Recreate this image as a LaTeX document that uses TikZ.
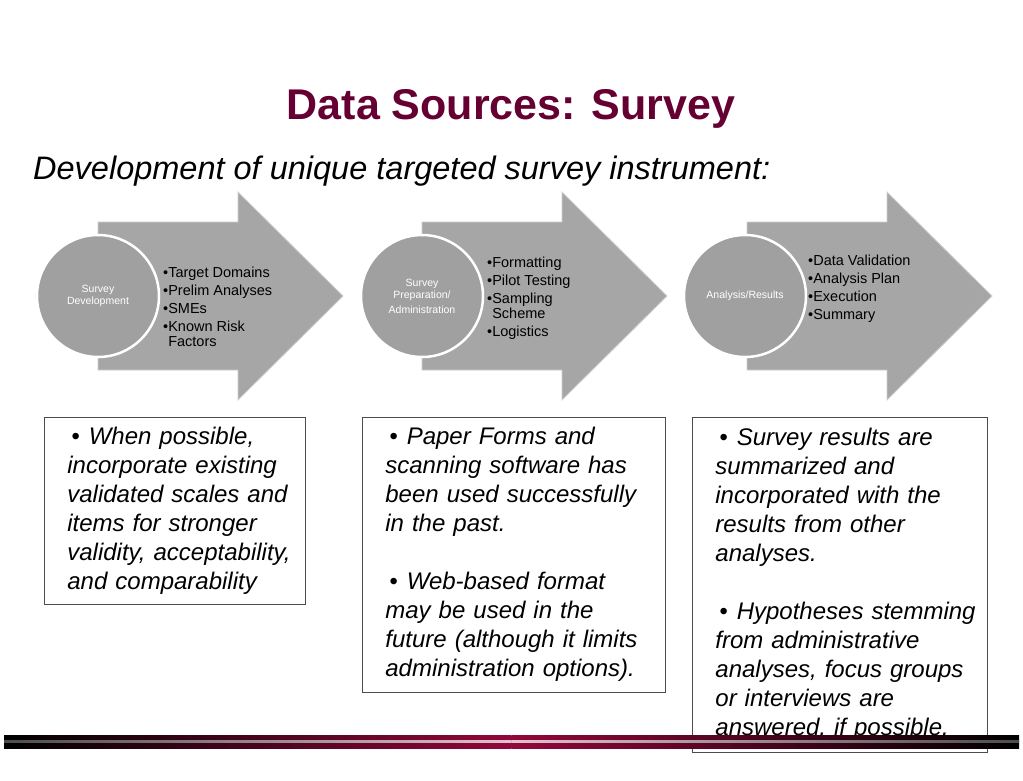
\documentclass[tikz,border=0pt]{standalone}
\usepackage{fontspec}
\setmainfont{Liberation Sans}
\usetikzlibrary{shapes.geometric,calc}
\definecolor{titlered}{RGB}{102,0,51}
\definecolor{barred}{RGB}{145,8,58}
\definecolor{arrowgray}{RGB}{166,166,166}
\definecolor{circlegray}{RGB}{160,160,160}

\begin{document}
\begin{tikzpicture}[x=1pt,y=-1pt,
    arrowbody/.style={fill=arrowgray,draw=arrowgray!55,line width=0.8pt},
    stage/.style={circle,fill=circlegray,draw=white,line width=2.5pt,
      minimum size=122pt,inner sep=0pt,align=center,text=white,
      font=\fontsize{10.5}{12}\selectfont},
    items/.style={anchor=north west,inner sep=0pt,align=left,
      font=\fontsize{14.5}{15.5}\selectfont},
    notebox/.style={draw=black!70,line width=0.8pt,anchor=north west,
      inner xsep=23pt,inner ysep=0pt,align=left,
      font=\fontsize{24}{29}\selectfont\itshape}]
  \fill[white] (0,0) rectangle (1023,780);
  \useasboundingbox (0,0) rectangle (1023,780);

  \node[anchor=base,text=titlered,font=\fontsize{43}{50}\selectfont\bfseries]
    (title) at (511,119) {Data Sources: Survey};
  \node[anchor=base west,inner sep=0pt,font=\fontsize{32.5}{38}\selectfont\itshape]
    (lead) at (33,179) {Development of unique targeted survey instrument:};

  \draw[arrowbody]
    (98,222) -- (238,222) -- (238,192) -- (343,296) -- (238,400) -- (238,370) -- (98,370) -- cycle;
  \draw[arrowbody]
    (422,222) -- (562,222) -- (562,192) -- (667,296) -- (562,400) -- (562,370) -- (422,370) -- cycle;
  \draw[arrowbody]
    (747,222) -- (887,222) -- (887,192) -- (992,296) -- (887,400) -- (887,370) -- (747,370) -- cycle;

  \node[stage] (devcircle) at (98,296) {Survey\\Development};
  \node[stage] (prepcircle) at (422,296) {Survey\\Preparation/\\[3pt]Administration};
  \node[stage] (rescircle) at (745,296) {Analysis/Results};

  \node[items] (devitems) at (163,266.5)
    {\textbullet Target Domains\\[2.5pt]\textbullet Prelim Analyses\\[2.5pt]\textbullet SMEs\\[2.5pt]%
     \textbullet Known Risk\\\phantom{\textbullet}Factors};
  \node[items] (prepitems) at (487,256.5)
    {\textbullet Formatting\\[2.5pt]\textbullet Pilot Testing\\[2.5pt]\textbullet Sampling\\%
     \phantom{\textbullet}Scheme\\[2.5pt]\textbullet Logistics};
  \node[items] (resitems) at (808,254.5)
    {\textbullet Data Validation\\[2.5pt]\textbullet Analysis Plan\\[2.5pt]\textbullet Execution\\[2.5pt]%
     \textbullet Summary};

  \node[notebox,text width=215pt,minimum height=187pt] (devnote) at (44,417)
    {\begin{tabular}{@{}l@{}}
     \hspace*{4pt}\textbullet\hspace{9pt}When possible,\\incorporate existing\\validated scales and\\
     items for stronger\\validity, acceptability,\\and comparability
     \end{tabular}};
  \node[notebox,text width=257pt,minimum height=275pt] (prepnote) at (362,417)
    {\begin{tabular}{@{}l@{}}
     \hspace*{4pt}\textbullet\hspace{9pt}Paper Forms and\\scanning software has\\been used successfully\\
     in the past.\\[29pt]\hspace*{4pt}\textbullet\hspace{9pt}Web-based format\\may be used in the\\
     future (although it limits\\administration options).
     \end{tabular}};
  \node[notebox,text width=249pt,minimum height=335pt] (resnote) at (692,417)
    {\begin{tabular}{@{}l@{}}
     \hspace*{4pt}\textbullet\hspace{9pt}Survey results are\\summarized and\\incorporated with the\\
     results from other\\analyses.\\[29pt]\hspace*{4pt}\textbullet\hspace{9pt}Hypotheses stemming\\
     from administrative\\analyses, focus groups\\or interviews are\\answered, if possible.
     \end{tabular}};

  \shade[left color=black,right color=barred] (4,735.5) rectangle (511.5,748.5);
  \shade[left color=barred,right color=black] (511.5,735.5) rectangle (1019,748.5);
  \shade[left color=black!70!white,right color=barred!25!white] (4,740.3) rectangle (511.5,742.7);
  \shade[left color=barred!25!white,right color=black!70!white] (511.5,740.3) rectangle (1019,742.7);
\end{tikzpicture}
\end{document}
